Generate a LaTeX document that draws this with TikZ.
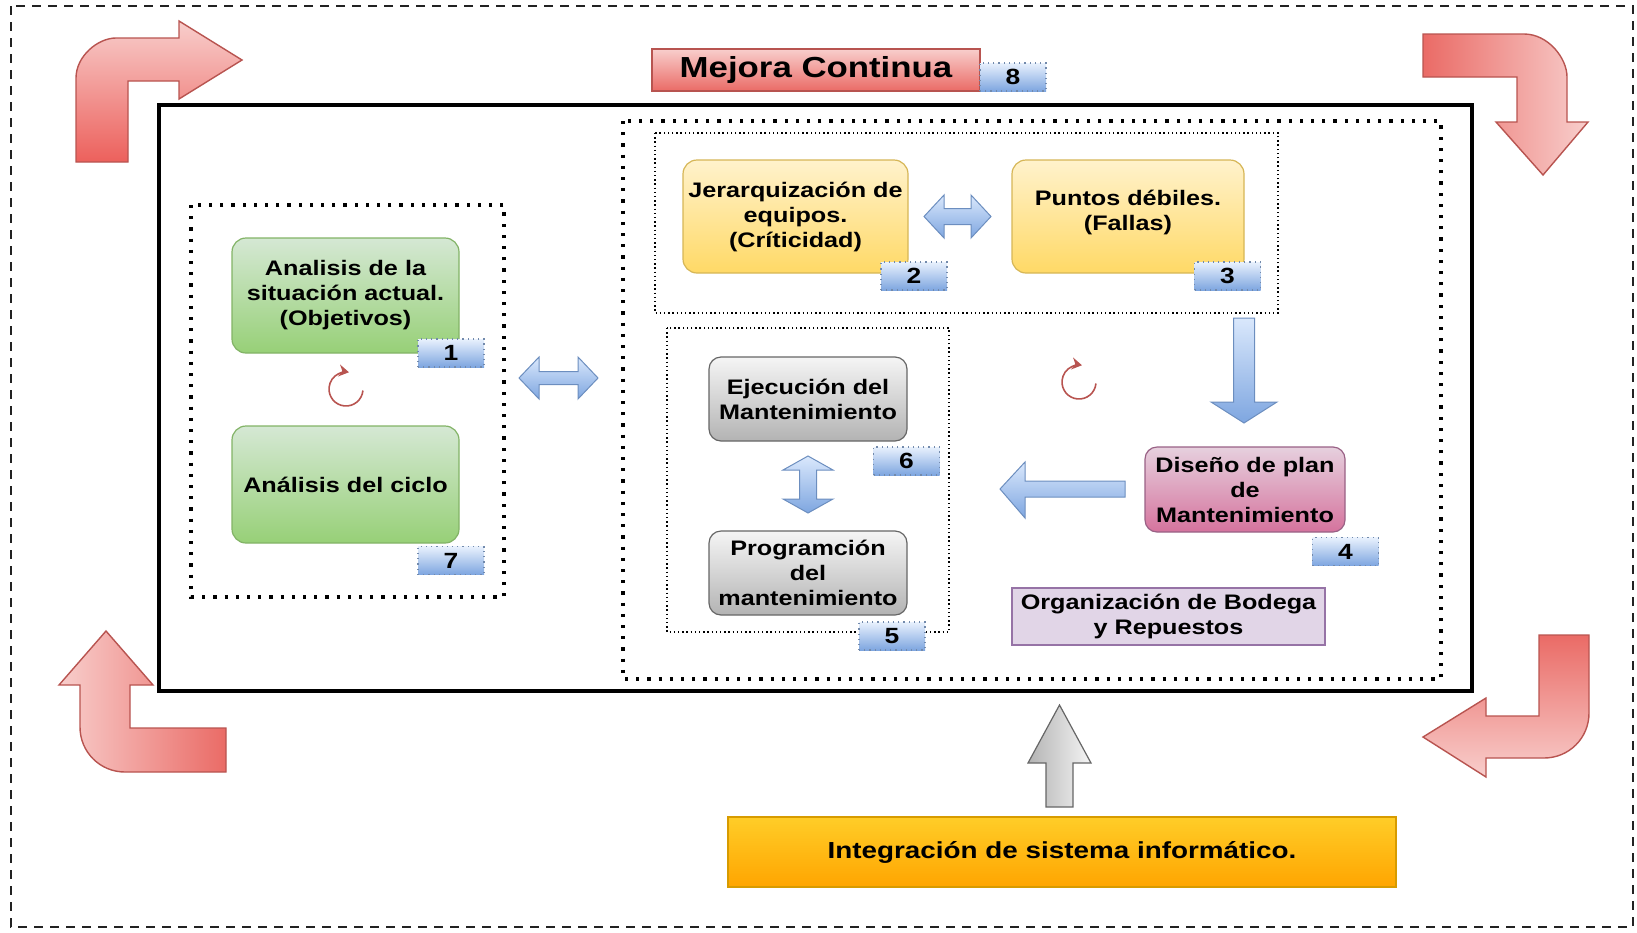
\documentclass[tikz,border=0pt]{standalone}
\usepackage{fontspec}
\setmainfont{Liberation Sans}[FakeStretch=1.2]
\usetikzlibrary{arrows.meta}
\definecolor{gA}{HTML}{D5E8D4}\definecolor{gB}{HTML}{97D077}\definecolor{gL}{HTML}{82B366}
\definecolor{yA}{HTML}{FFF2CC}\definecolor{yB}{HTML}{FFD966}\definecolor{yL}{HTML}{D6B656}
\definecolor{kA}{HTML}{F5F5F5}\definecolor{kB}{HTML}{B3B3B3}\definecolor{kL}{HTML}{666666}
\definecolor{pA}{HTML}{E6D0DE}\definecolor{pB}{HTML}{D5739D}\definecolor{pL}{HTML}{996185}
\definecolor{rA}{HTML}{F8CECC}\definecolor{rB}{HTML}{EA6B66}\definecolor{rL}{HTML}{B85450}
\definecolor{oA}{HTML}{FFCD28}\definecolor{oB}{HTML}{FFA500}\definecolor{oL}{HTML}{D79B00}
\definecolor{bA}{HTML}{DAE8FC}\definecolor{bB}{HTML}{7EA6E0}\definecolor{bL}{HTML}{6C8EBF}
\definecolor{lav}{HTML}{E1D5E7}\definecolor{lavL}{HTML}{9673A6}
\definecolor{dash}{HTML}{222222}
\begin{document}
\begin{tikzpicture}[x=0.5pt,y=-0.5pt,
  txt/.style={font=\bfseries\fontsize{10.5}{12.5}\selectfont, align=center, text=black},
  box/.style={txt, rounded corners=7pt, draw, line width=0.6pt, inner sep=2pt},
  gbox/.style={box, draw=gL, top color=gA, bottom color=gB},
  ybox/.style={box, draw=yL, top color=yA, bottom color=yB},
  kbox/.style={box, draw=kL, top color=kA, bottom color=kB, rounded corners=6pt},
  pbox/.style={box, draw=pL, top color=pA, bottom color=pB, rounded corners=6pt},
  badge/.style={draw=bL!70!gray, dotted, line width=0.6pt, top color=bA!60!white, bottom color=bB,
     minimum width=33pt, minimum height=14pt, inner sep=0pt, font=\bfseries\fontsize{11}{11}\selectfont},
  bigdot/.style={line width=1.6pt, dash pattern=on 1.6pt off 4pt},
  thindot/.style={line width=0.6pt, dash pattern=on 0.7pt off 1.4pt, draw=black},
  barrow/.style={draw=bL, line width=0.5pt, top color=bA, bottom color=bB},
  circarrow/.style={draw=rL, line width=0.8pt, -{Stealth[length=5pt,width=6pt]}},
  redline/.style={draw=rL, line width=0.7pt}
]
\useasboundingbox (0,0) rectangle (1637,932);

% outer frame
\draw[draw=dash, line width=1.2pt, dash pattern=on 4.5pt off 3.5pt] (11,6) rectangle (1633,927);
% inner black frame
\draw[line width=2pt] (159,105) rectangle (1472,691);
% dotted containers
\draw[bigdot] (191,205) rectangle (504,597);
\draw[bigdot] (623,121) rectangle (1441,679);
\draw[thindot] (655,133) rectangle (1278,313);
\draw[thindot] (667,328) rectangle (949,632);

% red bent arrows
\path[redline, top color=rA, bottom color=rB!90!red]
  (76,162) -- (76,78) .. controls (76,56) and (98,38) .. (116,38) -- (179,38) -- (179,21)
  -- (242,60) -- (179,99) -- (179,81) -- (128,81) -- (128,162) -- cycle;
\path[redline, left color=rB, right color=rA]
  (1423,34) -- (1524,34) .. controls (1548,34) and (1567,58) .. (1567,77) -- (1567,122)
  -- (1588,122) -- (1543,175) -- (1496,122) -- (1517,122) -- (1517,77) -- (1423,77) -- cycle;
\path[redline, left color=rA, right color=rB]
  (226,772) -- (125,772) .. controls (100,772) and (80,752) .. (80,727) -- (80,685)
  -- (59,685) -- (106,631) -- (153,685) -- (130,685) -- (130,728) -- (226,728) -- cycle;
\path[redline, top color=rB, bottom color=rA]
  (1539,635) -- (1589,635) -- (1589,713) .. controls (1589,738) and (1569,758) .. (1544,758)
  -- (1486,758) -- (1486,777) -- (1423,737) -- (1486,698) -- (1486,716) -- (1539,716) -- cycle;

% title
\node[draw=rL, line width=0.7pt, top color=rA, bottom color=rB, minimum width=164pt, minimum height=21pt,
      inner sep=0pt, font=\bfseries\fontsize{14.5}{15}\selectfont] (mejora) at (816,70) {Mejora Continua};
\node[badge] (n8) at (1013,77) {8};

% left group
\node[gbox, minimum width=113.5pt, minimum height=57.5pt] (analisis) at (345.5,295.5)
  {Analisis de la\\situación actual.\\(Objetivos)};
\node[badge] (n1) at (451,353) {1};
\node[gbox, minimum width=113.5pt, minimum height=58.5pt] (ciclo) at (345.5,484.5) {Análisis del ciclo};
\node[badge] (n7) at (451,560.5) {7};
\coordinate (c1) at (346,389);
\draw[circarrow] (c1) ++(5:17) arc[start angle=5, end angle=280, radius=17];

% double arrow left <-> right
\path[barrow] (519,378) -- (539,357) -- (539,371.5) -- (578,371.5) -- (578,357) -- (598,378)
  -- (578,399) -- (578,384.5) -- (539,384.5) -- (539,399) -- cycle;

% top right group
\node[ybox, minimum width=112.5pt, minimum height=56.5pt] (jer) at (795.5,216.5)
  {Jerarquización de\\equipos.\\(Críticidad)};
\node[badge] (n2) at (914,276) {2};
\node[ybox, minimum width=116pt, minimum height=56.5pt] (puntos) at (1128,216.5)
  {Puntos débiles.\\(Fallas)\\[-0.6em]};
\node[badge] (n3) at (1227.5,276) {3};
\path[barrow] (924,216.5) -- (944,195) -- (944,208.5) -- (971,208.5) -- (971,195) -- (991,216.5)
  -- (971,238) -- (971,224.5) -- (944,224.5) -- (944,238) -- cycle;

% down arrow
\path[barrow] (1233.5,318) -- (1254.5,318) -- (1254.5,402) -- (1277,402) -- (1244,423)
  -- (1211,402) -- (1233.5,402) -- cycle;

% design
\node[pbox, minimum width=100pt, minimum height=42.5pt] (diseno) at (1245,489.5)
  {Diseño de plan\\de\\Mantenimiento};
\node[badge] (n4) at (1345.5,551.5) {4};

% left arrow
\path[barrow] (1000,489) -- (1025,462) -- (1025,481) -- (1125,481) -- (1125,497) -- (1025,497)
  -- (1025,518) -- cycle;

% bottom left group
\node[kbox, minimum width=99pt, minimum height=42pt] (ejec) at (808,399) {Ejecución del\\Mantenimiento};
\node[badge] (n6) at (906.5,461) {6};
\node[kbox, minimum width=99pt, minimum height=42pt] (prog) at (808,573) {Programción\\del\\mantenimiento};
\node[badge] (n5) at (892,636) {5};
\path[barrow] (808,456) -- (833,470) -- (816.5,470) -- (816.5,499) -- (833,499) -- (808,513)
  -- (783,499) -- (799.5,499) -- (799.5,470) -- (783,470) -- cycle;

% middle cycle icon
\coordinate (c2) at (1079,382);
\draw[circarrow] (c2) ++(5:17) arc[start angle=5, end angle=280, radius=17];

% bodega
\node[txt, draw=lavL, line width=1.4pt, fill=lav, minimum width=156.5pt, minimum height=28.5pt, inner sep=0pt]
  (bodega) at (1168.5,616.5) {Organización de Bodega\\y Repuestos};

% integration
\node[draw=oL, line width=0.6pt, top color=oA, bottom color=oB, minimum width=334pt, minimum height=35pt,
      inner sep=0pt, font=\bfseries\fontsize{11.6}{13}\selectfont] (integ) at (1062,852)
  {Integración de sistema informático.};
\path[draw=kL, line width=0.6pt, left color=kB, right color=kA]
  (1059.5,705) -- (1091,763) -- (1073,763) -- (1073,807) -- (1046,807) -- (1046,763) -- (1028,763) -- cycle;
\end{tikzpicture}
\end{document}
